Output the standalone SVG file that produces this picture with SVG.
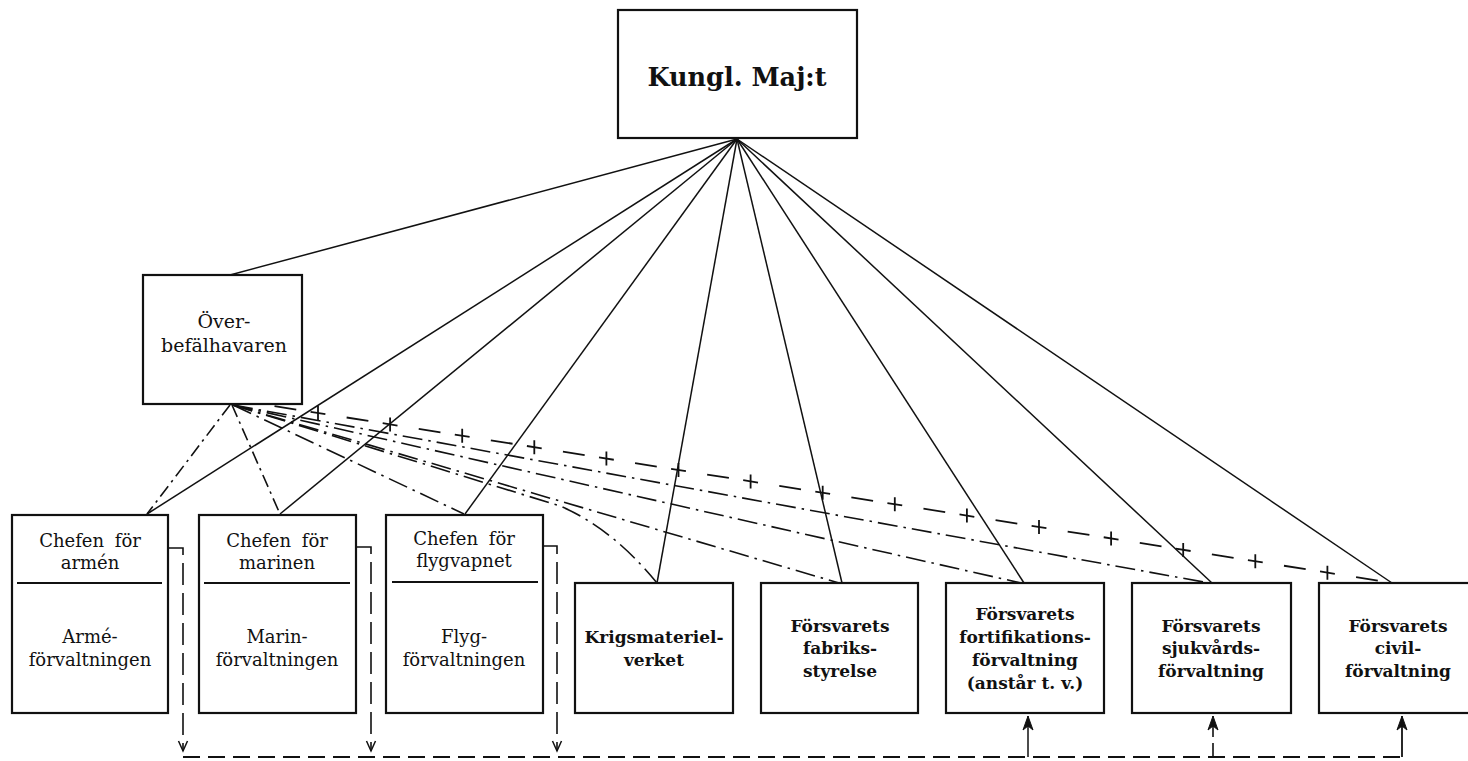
<svg xmlns="http://www.w3.org/2000/svg" width="1468" height="761" viewBox="0 0 1468 761">
<style>
  .box { fill: #fff; stroke: #111; stroke-width: 2.2; }
  .div { stroke: #111; stroke-width: 1.8; }
  .t { font-family: "DejaVu Serif", "Liberation Serif", serif; fill: #111; text-anchor: middle; }
  .reg { font-size: 18px; }
  .up { font-size: 18px; word-spacing: 5px; }
  .bold { font-size: 17px; font-weight: bold; }
  .solid { fill: none; stroke: #111; stroke-width: 1.5; }
  .dd { fill: none; stroke: #111; stroke-width: 1.6; stroke-dasharray: 20 6 2.5 6; }
  .dds { fill: none; stroke: #111; stroke-width: 1.6; stroke-dasharray: 13 5 2.5 5; }
  .cross { fill: none; stroke: #111; stroke-width: 1.8; stroke-dasharray: 22 14.5 15 21.5; stroke-dashoffset: 34; }
  .tick { fill: none; stroke: #111; stroke-width: 1.8; }
  .vdash { fill: none; stroke: #111; stroke-width: 1.6; stroke-dasharray: 22 8; }
  .hdash { fill: none; stroke: #111; stroke-width: 1.8; stroke-dasharray: 17 8; }
</style>
<defs>
  <marker id="openArrow" markerUnits="userSpaceOnUse" markerWidth="14" markerHeight="14" viewBox="-12 -7 14 14" refX="0" refY="0" orient="auto">
    <path d="M-10,-4.5 L0,0 L-10,4.5" fill="none" stroke="#111" stroke-width="1.5"/>
  </marker>
  <marker id="barbArrow" markerUnits="userSpaceOnUse" markerWidth="16" markerHeight="14" viewBox="-15 -7 16 14" refX="0" refY="0" orient="auto">
    <path d="M0,0 L-14,-5 L-10,0 L-14,5 Z" fill="#111" stroke="#111" stroke-width="1"/>
  </marker>
</defs>
<rect width="1468" height="761" fill="#fff"/>

<g id="connectors">
  <!-- solid lines from Kungl. Maj:t -->
  <path class="solid" d="M737,139 L230,275"/>
  <path class="solid" d="M737,139 L147,514"/>
  <path class="solid" d="M737,139 L280,514"/>
  <path class="solid" d="M737,139 L465,514"/>
  <path class="solid" d="M737,139 L657,583"/>
  <path class="solid" d="M737,139 L842,583"/>
  <path class="solid" d="M737,139 L1024,583"/>
  <path class="solid" d="M737,139 L1212,583"/>
  <path class="solid" d="M737,139 L1392,583"/>

  <!-- dash-dot lines from Överbefälhavaren -->
  <path class="dds" d="M230,405 L147,514"/>
  <path class="dds" d="M232,405 L280,514"/>
  <path class="dd" d="M233,405 L464,514"/>
  <path class="dd" d="M233,405 L560,506 Q612,528 657,583"/>
  <path class="dd" d="M233,405 L839,583"/>
  <path class="dd" d="M233,405 L1021,583"/>
  <path class="dd" d="M233,405 L1209,583"/>
  <!-- crossed dashed line to civilförvaltning -->
  <path class="cross" d="M236,400 L1393,583"/>
  <path class="tick" d="M318,406v14 M390.1,417.4v14 M462.2,428.8v14 M534.3,440.2v14 M606.4,451.6v14 M678.5,463v14 M750.6,474.4v14 M822.7,485.8v14 M894.8,497.2v14 M966.9,508.6v14 M1039,520v14 M1111.1,531.5v14 M1183.2,542.9v14 M1255.3,554.3v14 M1327.4,565.7v14"/>

  <!-- bottom coordination connectors -->
  <path class="vdash" d="M168,548 H183 V751" marker-end="url(#openArrow)"/>
  <path class="vdash" d="M356,547 H371 V751" marker-end="url(#openArrow)"/>
  <path class="vdash" d="M543,546 H557 V751" marker-end="url(#openArrow)"/>
  <path class="hdash" d="M183,757 H1402"/>
  <path class="solid" d="M1028,757 V716" marker-end="url(#barbArrow)"/>
  <path class="vdash" style="stroke-dasharray: 14 6" d="M1213,757 V716" marker-end="url(#barbArrow)"/>
  <path class="solid" style="stroke-width:1.8" d="M1402,757 V716" marker-end="url(#barbArrow)"/>
</g>

<g id="node-kungl">
  <rect class="box" x="618" y="10" width="239" height="128"/>
  <text class="t" x="737" y="86" style="font-size:25.5px;font-weight:bold">Kungl. Maj:t</text>
</g>

<g id="node-obefh">
  <rect class="box" x="143" y="275" width="159" height="129"/>
  <text class="t" x="224" y="328" style="font-size:19px">Över-</text>
  <text class="t" x="224" y="352" style="font-size:19px">befälhavaren</text>
</g>

<g id="node-armen">
  <rect class="box" x="12" y="515" width="156" height="198"/>
  <line class="div" x1="17" y1="583" x2="162" y2="583"/>
  <text class="t up" x="90" y="547">Chefen för</text>
  <text class="t up" x="90" y="569">armén</text>
  <text class="t reg" x="90" y="643">Armé-</text>
  <text class="t reg" x="90" y="666">förvaltningen</text>
</g>

<g id="node-marinen">
  <rect class="box" x="199" y="515" width="157" height="198"/>
  <line class="div" x1="204" y1="583" x2="350" y2="583"/>
  <text class="t up" x="277" y="547">Chefen för</text>
  <text class="t up" x="277" y="569">marinen</text>
  <text class="t reg" x="277" y="643">Marin-</text>
  <text class="t reg" x="277" y="666">förvaltningen</text>
</g>

<g id="node-flyg">
  <rect class="box" x="386" y="515" width="157" height="198"/>
  <line class="div" x1="392" y1="582" x2="538" y2="582"/>
  <text class="t up" x="464" y="545">Chefen för</text>
  <text class="t up" x="464" y="567">flygvapnet</text>
  <text class="t reg" x="464" y="643">Flyg-</text>
  <text class="t reg" x="464" y="666">förvaltningen</text>
</g>

<g id="node-krig">
  <rect class="box" x="575" y="583" width="158" height="130"/>
  <text class="t bold" x="654" y="643">Krigsmateriel-</text>
  <text class="t bold" x="654" y="666">verket</text>
</g>

<g id="node-fabrik">
  <rect class="box" x="761" y="583" width="157" height="130"/>
  <text class="t bold" x="840" y="632">Försvarets</text>
  <text class="t bold" x="840" y="654">fabriks-</text>
  <text class="t bold" x="840" y="677">styrelse</text>
</g>

<g id="node-fort">
  <rect class="box" x="946" y="583" width="158" height="130"/>
  <text class="t bold" x="1025" y="620">Försvarets</text>
  <text class="t bold" x="1025" y="643">fortifikations-</text>
  <text class="t bold" x="1025" y="666">förvaltning</text>
  <text class="t bold" x="1025" y="689">(anstår t. v.)</text>
</g>

<g id="node-sjuk">
  <rect class="box" x="1132" y="583" width="159" height="130"/>
  <text class="t bold" x="1211" y="632">Försvarets</text>
  <text class="t bold" x="1211" y="654">sjukvårds-</text>
  <text class="t bold" x="1211" y="677">förvaltning</text>
</g>

<g id="node-civil">
  <rect class="box" x="1319" y="583" width="158" height="130"/>
  <text class="t bold" x="1398" y="632">Försvarets</text>
  <text class="t bold" x="1398" y="654">civil-</text>
  <text class="t bold" x="1398" y="677">förvaltning</text>
</g>
</svg>
